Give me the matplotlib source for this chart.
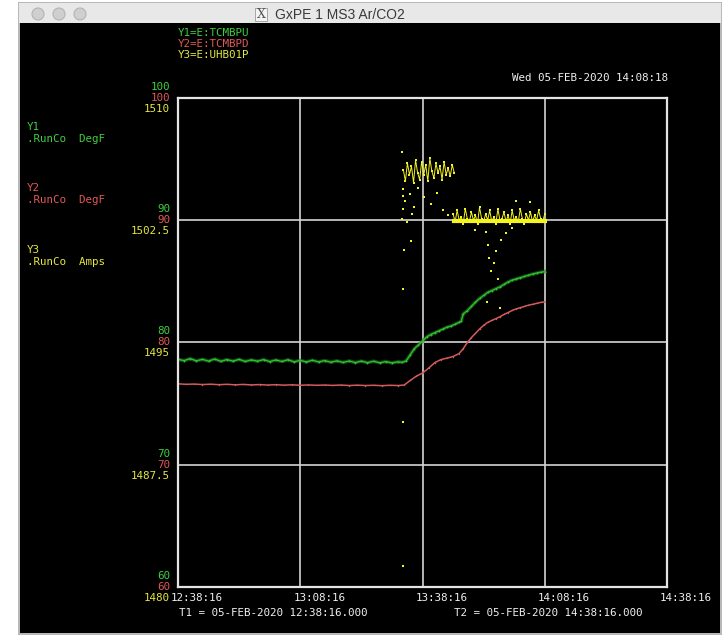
import matplotlib
matplotlib.use("Agg")
import matplotlib.pyplot as plt
from matplotlib.patches import Rectangle, Circle
from matplotlib.transforms import offset_copy

# ---------------- data (minutes after 12:38:16) ----------------
green_t = [0, 1.5, 3, 4.5, 6, 7.5, 9, 10.5, 12, 13.5, 15, 16.5, 18, 19.5, 21, 22.5, 24, 25.5,
           27, 28.5, 30, 31.5, 33, 34.5, 36, 37.5, 39, 40.5, 42, 43.5, 45, 46.5, 48, 49.5, 51,
           52.5, 54, 55, 56, 57, 58, 59, 60, 61, 62, 63, 64, 65, 66, 67, 68, 69, 69.5, 70, 71,
           72, 73, 74, 75, 76, 77, 78, 79, 80, 81, 82, 83, 84, 85, 86, 87, 88, 89, 90]
green_v = [78.62, 78.52, 78.68, 78.50, 78.62, 78.48, 78.65, 78.46, 78.60, 78.48, 78.62, 78.45,
           78.58, 78.47, 78.60, 78.44, 78.57, 78.45, 78.59, 78.42, 78.54, 78.41, 78.55, 78.41,
           78.52, 78.39, 78.50, 78.37, 78.49, 78.36, 78.48, 78.35, 78.47, 78.34, 78.44, 78.33,
           78.42, 78.38, 78.50, 79.00, 79.50, 79.80, 80.10, 80.45, 80.65, 80.80, 80.95, 81.10,
           81.25, 81.35, 81.50, 81.65, 81.75, 82.35, 82.60, 82.95, 83.30, 83.60, 83.85, 84.10,
           84.25, 84.40, 84.55, 84.75, 84.95, 85.10, 85.20, 85.30, 85.40, 85.50, 85.60, 85.68,
           85.75, 85.80]

red_t = [0, 2, 4, 6, 8, 10, 12, 14, 16, 18, 20, 22, 24, 26, 28, 30, 32, 34, 36, 38, 40, 42, 44,
         46, 48, 50, 52, 54, 55.5, 57, 58.5, 60, 61.5, 63, 64.5, 66, 67.5, 69, 70, 71, 72, 73, 74,
         75, 76, 77, 78, 79, 80, 81, 82, 83, 84, 85, 86, 87, 88, 89, 90]
red_v = [76.62, 76.58, 76.60, 76.56, 76.59, 76.55, 76.58, 76.54, 76.57, 76.53, 76.56, 76.52,
         76.55, 76.51, 76.54, 76.50, 76.53, 76.50, 76.52, 76.49, 76.52, 76.48, 76.51, 76.48,
         76.50, 76.47, 76.50, 76.48, 76.52, 76.90, 77.25, 77.50, 77.90, 78.35, 78.60, 78.72,
         78.85, 79.10, 79.50, 80.00, 80.40, 80.75, 81.10, 81.40, 81.65, 81.80, 81.95, 82.10,
         82.30, 82.45, 82.62, 82.75, 82.85, 82.95, 83.05, 83.12, 83.20, 83.28, 83.32]

yel_up_t = [55.3, 55.8, 56.3, 56.8, 57.3, 57.8, 58.3, 58.8, 59.3, 59.8, 60.3, 60.8, 61.3, 61.8,
            62.3, 62.8, 63.3, 63.8, 64.3, 64.8, 65.3, 65.8, 66.3, 66.8, 67.3, 67.8]
yel_up_v = [1505.6, 1504.9, 1506.0, 1505.3, 1505.8, 1504.8, 1506.2, 1505.4, 1505.0, 1506.1,
            1505.3, 1505.9, 1504.9, 1506.3, 1505.5, 1505.1, 1506.0, 1505.4, 1505.8, 1505.0,
            1506.1, 1505.3, 1505.7, 1505.2, 1505.9, 1505.4]

yel_low_t = [67.5, 68.0, 68.5, 69.0, 69.5, 70.0, 70.5, 71.0, 71.5, 72.0, 72.5, 73.0, 73.5, 74.0,
             74.5, 75.0, 75.5, 76.0, 76.5, 77.0, 77.5, 78.0, 78.5, 79.0, 79.5, 80.0, 80.5, 81.0,
             81.5, 82.0, 82.5, 83.0, 83.5, 84.0, 84.5, 85.0, 85.5, 86.0, 86.5, 87.0, 87.5, 88.0,
             88.5, 89.0, 89.5, 90.0]
yel_low_v = [1502.9, 1502.4, 1503.1, 1502.5, 1502.7, 1502.3, 1503.2, 1502.6, 1502.4, 1503.0,
             1502.5, 1502.8, 1502.3, 1503.3, 1502.6, 1502.4, 1502.9, 1502.5, 1503.1, 1502.4,
             1502.7, 1502.3, 1503.2, 1502.5, 1502.6, 1503.0, 1502.4, 1502.8, 1502.3, 1503.1,
             1502.5, 1502.7, 1502.4, 1503.2, 1502.6, 1502.3, 1502.9, 1502.5, 1503.0, 1502.4,
             1502.8, 1502.5, 1503.1, 1502.6, 1502.4, 1502.9]
yel_band_t = [67.8, 90.0]
yel_band_v = [1502.45, 1502.45]

yel_pts_t = [55.0, 55.2, 55.6, 56.9, 58.0, 59.0, 56.3, 57.4, 60.4, 62.0, 63.6, 65.1, 66.3, 57.2,
             55.4, 55.3, 55.1, 55.1, 75.5, 76.0, 76.3, 76.8, 77.6, 78.0, 78.5, 79.3, 80.6, 81.9,
             83.0, 86.5, 73.0, 75.9, 79.0, 55.1, 55.2, 55.0]
yel_pts_v = [1506.7, 1504.4, 1503.7, 1504.1, 1503.3, 1504.5, 1502.4, 1502.9, 1503.9, 1503.5,
             1504.2, 1503.1, 1502.8, 1501.2, 1500.7, 1498.3, 1490.1, 1481.3, 1501.8, 1501.0,
             1500.2, 1499.4, 1499.9, 1500.6, 1498.9, 1501.3, 1501.7, 1502.0, 1503.7, 1503.6,
             1501.9, 1497.5, 1497.1, 1504.0, 1503.2, 1502.6]

x_ticks = [0, 30, 60, 90, 120]
x_labels = ["12:38:16", "13:08:16", "13:38:16", "14:08:16", "14:38:16"]
y1_ticks = [60, 70, 80, 90, 100]
y2_ticks = [60, 70, 80, 90, 100]
y3_ticks = [1480, 1487.5, 1495, 1502.5, 1510]
y3_labels = ["1480", "1487.5", "1495", "1502.5", "1510"]

# ---------------- styling ----------------
W, H = 722, 635
MONO = "DejaVu Sans Mono"
FS = 7.8
C_GREEN_T = "#3fcf3f"
C_RED_T = "#e05858"
C_YEL_T = "#e6e640"
C_GREEN = "#34c034"
C_RED = "#d25c5c"
C_YEL = "#f4f420"
C_WHITE = "#f0f0f0"

fig = plt.figure(figsize=(W / 100, H / 100), dpi=100)
fig.patch.set_facecolor("white")

# background / window chrome axes in pixel units
bg = fig.add_axes([0, 0, 1, 1], zorder=0)
bg.set_xlim(0, W)
bg.set_ylim(H, 0)
bg.axis("off")
bg.add_patch(Rectangle((18, 2), W - 18, H - 2, facecolor="#b8b8b8", edgecolor="none"))
bg.add_patch(Rectangle((19, 3), W - 20, 20, facecolor="#e8e8e8", edgecolor="none"))
bg.add_patch(Rectangle((20, 23), W - 22, H - 25, facecolor="black", edgecolor="none"))
for cx in (38, 59, 80):
    bg.add_patch(Circle((cx, 14), 6, facecolor="#cfcfcf", edgecolor="#b4b4b4", lw=0.8))
bg.add_patch(Rectangle((255, 8), 12, 13, facecolor="#f4f4f4", edgecolor="#9a9a9a", lw=0.6))
bg.text(261, 15, "X", fontsize=9, family="DejaVu Serif", color="#555555", ha="center", va="center")
bg.text(275, 15, "GxPE 1 MS3 Ar/CO2", fontsize=10, family="Liberation Sans",
        color="#3a3a3a", ha="left", va="center")

# header texts
bg.text(178, 33, "Y1=E:TCMBPU", family=MONO, fontsize=FS, color=C_GREEN_T, va="center")
bg.text(178, 44, "Y2=E:TCMBPD", family=MONO, fontsize=FS, color=C_RED_T, va="center")
bg.text(178, 55, "Y3=E:UHB01P", family=MONO, fontsize=FS, color=C_YEL_T, va="center")
bg.text(668, 78, "Wed 05-FEB-2020 14:08:18", family=MONO, fontsize=FS, color=C_WHITE,
        ha="right", va="center")

# left axis titles
for (y0, lab, unit, col) in [(127, "Y1", ".RunCo  DegF", C_GREEN_T),
                             (188, "Y2", ".RunCo  DegF", C_RED_T),
                             (250, "Y3", ".RunCo  Amps", C_YEL_T)]:
    bg.text(27, y0, lab, family=MONO, fontsize=FS, color=col, va="center")
    bg.text(27, y0 + 12, unit, family=MONO, fontsize=FS, color=col, va="center")

# footer
bg.text(179, 613, "T1 = 05-FEB-2020 12:38:16.000", family=MONO, fontsize=FS, color=C_WHITE, va="center")
bg.text(454, 613, "T2 = 05-FEB-2020 14:38:16.000", family=MONO, fontsize=FS, color=C_WHITE, va="center")

# ---------------- plot axes ----------------
L, T, R, B = 178, 98, 667, 587
ax = fig.add_axes([L / W, 1 - B / H, (R - L) / W, (B - T) / H], zorder=2)
ax.set_facecolor("black")
ax.set_xlim(0, 120)
ax.set_ylim(60, 100)
ax.set_xticks(x_ticks)
ax.set_yticks(y1_ticks)
ax.tick_params(length=0, labelbottom=False, labelleft=False)
ax.grid(True, color="#d4d4d4", lw=1.2)
for s in ax.spines.values():
    s.set_color("#e4e4e4")
    s.set_linewidth(1.6)

ax.plot(green_t, green_v, color="#1d7a1d", lw=2.6, alpha=0.6, solid_joinstyle="round")
ax.plot(green_t, green_v, color=C_GREEN, lw=0.9, marker="o", ms=1.3, mew=0)
ax.plot(red_t, red_v, color=C_RED, lw=1.1, marker="o", ms=1.0, mew=0)

ax2 = ax.twinx()
ax2.set_ylim(1480, 1510)
ax2.set_yticks([])
for s in ax2.spines.values():
    s.set_visible(False)
ax2.plot(yel_band_t, yel_band_v, color=C_YEL, lw=3.0)
ax2.plot(yel_up_t, yel_up_v, color=C_YEL, lw=0.7, marker="s", ms=1.6, mew=0)
ax2.plot(yel_low_t, yel_low_v, color=C_YEL, lw=0.7, marker="s", ms=1.6, mew=0)
ax2.plot(yel_pts_t, yel_pts_v, linestyle="none", color=C_YEL, marker="s", ms=1.6, mew=0)

# tick labels, drawn through the axes transforms
tg = offset_copy(ax.get_yaxis_transform(), fig=fig, x=-8, y=11, units="dots")
tr = offset_copy(ax.get_yaxis_transform(), fig=fig, x=-8, y=0, units="dots")
ty = offset_copy(ax2.get_yaxis_transform(), fig=fig, x=-8, y=-11, units="dots")
for v in y1_ticks:
    ax.text(0, v, f"{v:g}", transform=tg, family=MONO, fontsize=FS, color=C_GREEN_T,
            ha="right", va="center", clip_on=False)
for v in y2_ticks:
    ax.text(0, v, f"{v:g}", transform=tr, family=MONO, fontsize=FS, color=C_RED_T,
            ha="right", va="center", clip_on=False)
for v, lab in zip(y3_ticks, y3_labels):
    ax2.text(0, v, lab, transform=ty, family=MONO, fontsize=FS, color=C_YEL_T,
             ha="right", va="center", clip_on=False)
tx = offset_copy(ax.get_xaxis_transform(), fig=fig, x=-7, y=-11, units="dots")
for t, lab in zip(x_ticks, x_labels):
    ax.text(t, 0, lab, transform=tx, family=MONO, fontsize=FS, color=C_WHITE,
            ha="left", va="center", clip_on=False)

fig.savefig("out.png", dpi=100, facecolor=fig.get_facecolor())
